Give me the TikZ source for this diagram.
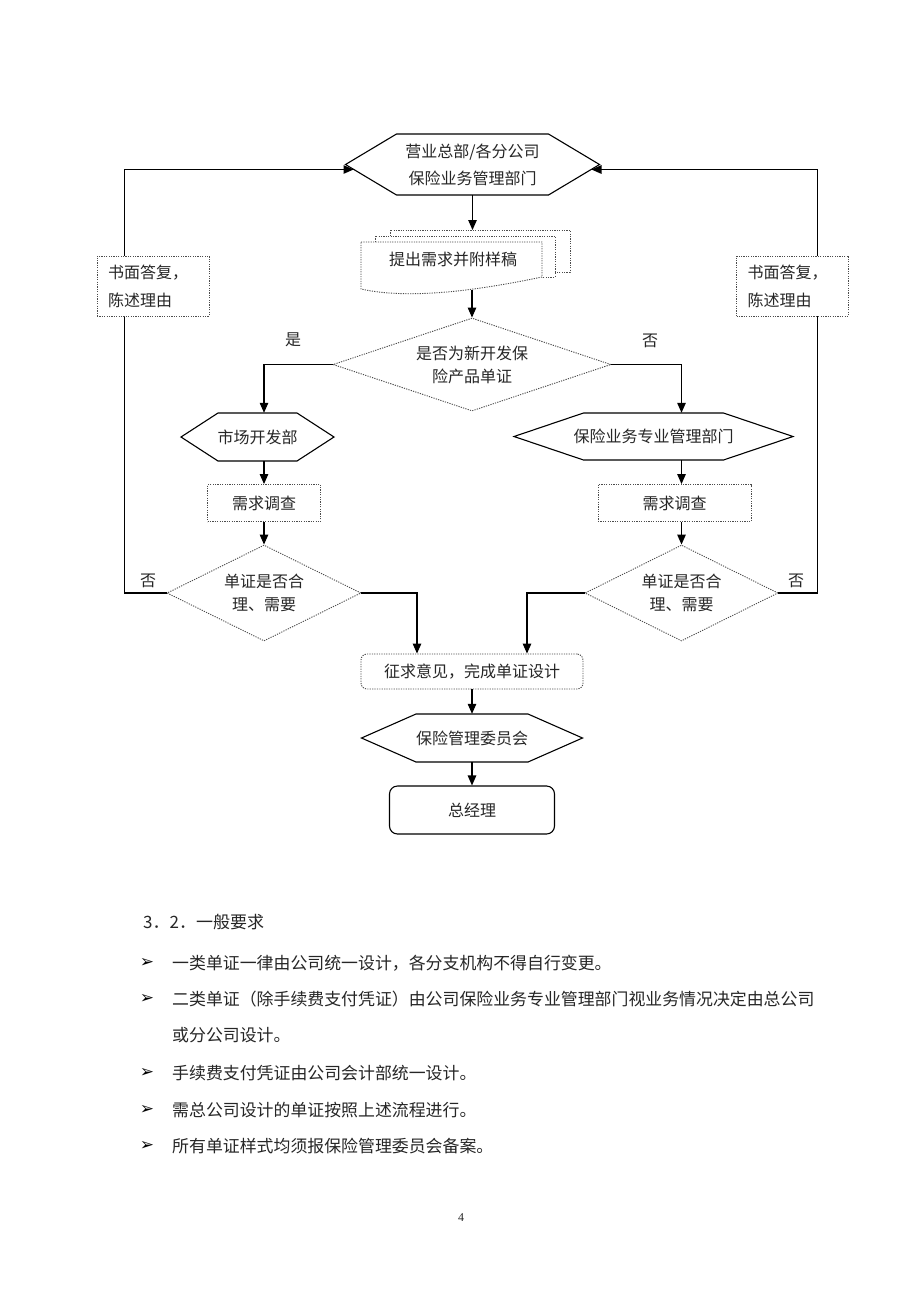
\documentclass[tikz,border=0pt]{standalone}
\usepackage{fontspec}
\setmainfont{Liberation Serif}
\newfontfamily\cjk{Noto Sans CJK SC}
\newfontfamily\dejavu{DejaVu Sans}
\usetikzlibrary{arrows.meta,shapes.geometric}
\newcommand\hexdraw[4]{\draw[hexline] ([shift={(-#2,-#3)}]#1.center) -- ([shift={(#2,-#3)}]#1.center) -- ([shift={(#2+#4,0)}]#1.center) -- ([shift={(#2,#3)}]#1.center) -- ([shift={(-#2,#3)}]#1.center) -- ([shift={(-#2-#4,0)}]#1.center) -- cycle;}
\begin{document}
\begin{tikzpicture}[x=1pt,y=-1pt,
  every node/.style={font=\cjk\fontsize{16}{23}\selectfont, text=black!85, inner sep=0pt},
  arr/.style={line width=1.2pt, -{Triangle[length=10pt,width=8.5pt]}},
  hexline/.style={line width=1.1pt, draw=black},
  dotline/.style={draw=black!70, line width=0.9pt, dash pattern=on 1.2pt off 1.2pt},
  dotbox/.style={dotline, fill=white},
  dia/.style={diamond, dotline, fill=white, align=center, aspect=2.5},
  body/.style={anchor=west, font=\cjk\fontsize{16.9}{16.9}\selectfont},
  bul/.style={font=\dejavu\fontsize{17}{17}\selectfont, text=black}
]
\useasboundingbox[fill=white] (0,0) rectangle (920,1302);

% top hexagon
\node[minimum width=152pt, minimum height=61pt, align=center, font=\cjk\fontsize{16}{27}\selectfont] (top) at (472.5,164.5) {营业总部/各分公司\\保险业务管理部门};
\hexdraw{top}{76}{30.5}{51}

% multi-document
\coordinate (docin) at (472.5,230);
\coordinate (docout) at (472,290);
\draw[dotline] (390,236) -- (390,230) -- (570,230) -- (570,272) -- (555,272);
\draw[dotline] (375,242) -- (375,236) -- (555,236) -- (555,277) -- (542,277);
\draw[dotline, fill=white] (361,242) -- (542,242) -- (542,277) .. controls (480,290) and (410,300) .. (361,289) -- cycle;
\node (doc) at (453,259) {提出需求并附样稿};
\draw[arr] (top.south) -- (docin);

% first decision
\node[dia, minimum width=278pt, minimum height=93pt, aspect=3] (d1) at (472,364.5) {是否为新开发保\\险产品单证};
\draw[arr] (docout) -- (d1.north);

% left branch
\node[minimum width=79pt, minimum height=48pt] (hexL) at (257.5,437) {市场开发部};
\hexdraw{hexL}{39.5}{24}{37}
\node[dotbox, minimum width=113pt, minimum height=37pt] (boxL) at (264,503) {需求调查};
\node[dia, minimum width=194pt, minimum height=96pt] (d2) at (264,593) {单证是否合\\理、需要};

% right branch
\node[minimum width=140pt, minimum height=47pt] (hexR) at (653.5,436.5) {保险业务专业管理部门};
\hexdraw{hexR}{70}{23.5}{69.5}
\node[dotbox, minimum width=153pt, minimum height=37pt] (boxR) at (674.5,503) {需求调查};
\node[dia, minimum width=193pt, minimum height=96pt] (d3) at (681.5,593) {单证是否合\\理、需要};

\draw[arr] (d1.west) -| (boxL.north |- hexL.north);
\draw[arr] (d1.east) -| (d3.north |- hexR.north);
\draw[arr] (boxL.north |- hexL.south) -- (boxL.north);
\draw[arr] (boxL.south) -- (d2.north);
\draw[arr] (d3.north |- hexR.south) -- (d3.north |- boxR.north);
\draw[arr] (d3.north |- boxR.south) -- (d3.north);

% labels
\node (yes) at (293,340) {是};
\node (no1) at (650,341) {否};
\node (no2) at (148,581) {否};
\node (no3) at (796,581) {否};

% loops back
\draw[arr] (d2.west) -- ++(-42,0) |- ([shift={(-119,5)}]top.center);
\draw[arr] (d3.east) -- ++(39,0) |- ([shift={(119,5)}]top.center);
\node[dotbox, minimum width=112pt, minimum height=60pt, text width=90pt, align=left, font=\cjk\fontsize{16}{28}\selectfont] (rL) at (153,286) {书面答复，\\陈述理由};
\node[dotbox, minimum width=112pt, minimum height=60pt, text width=90pt, align=left, font=\cjk\fontsize{16}{28}\selectfont] (rR) at (792.5,286) {书面答复，\\陈述理由};

% merge
\node[dotbox, rounded corners=6pt, minimum width=222pt, minimum height=35pt] (fb) at (472,671.5) {征求意见，完成单证设计};
\draw[arr] (d2.east) -| ([xshift=-55pt]fb.north);
\draw[arr] (d3.west) -| ([xshift=55pt]fb.north);

\node[minimum width=112pt, minimum height=48pt] (hexC) at (472,738) {保险管理委员会};
\hexdraw{hexC}{56}{24}{54.5}
\draw[arr] (fb.south) -- (hexC.north);

\node[draw=black, line width=1.1pt, rounded corners=8pt, minimum width=165pt, minimum height=48pt] (gm) at (472,810) {总经理};
\draw[arr] (hexC.south) -- (gm.north);

% text below
\node[anchor=west, font=\cjk\fontsize{17}{17}\selectfont] (h32) at (143,922) {3．2．一般要求};
\node[bul] (b1) at (147,963) {➢};
\node[body] (t1) at (172,963) {一类单证一律由公司统一设计，各分支机构不得自行变更。};
\node[bul] (b2) at (147,999) {➢};
\node[body] (t2) at (172,999) {二类单证（除手续费支付凭证）由公司保险业务专业管理部门视业务情况决定由总公司};
\node[body] (t2b) at (172,1035) {或分公司设计。};
\node[bul] (b3) at (147,1073) {➢};
\node[body] (t3) at (172,1073) {手续费支付凭证由公司会计部统一设计。};
\node[bul] (b4) at (147,1110) {➢};
\node[body] (t4) at (172,1110) {需总公司设计的单证按照上述流程进行。};
\node[bul] (b5) at (147,1146) {➢};
\node[body] (t5) at (172,1146) {所有单证样式均须报保险管理委员会备案。};
\node[font=\fontsize{12}{12}\selectfont] (pg) at (461,1218) {4};
\end{tikzpicture}
\end{document}
